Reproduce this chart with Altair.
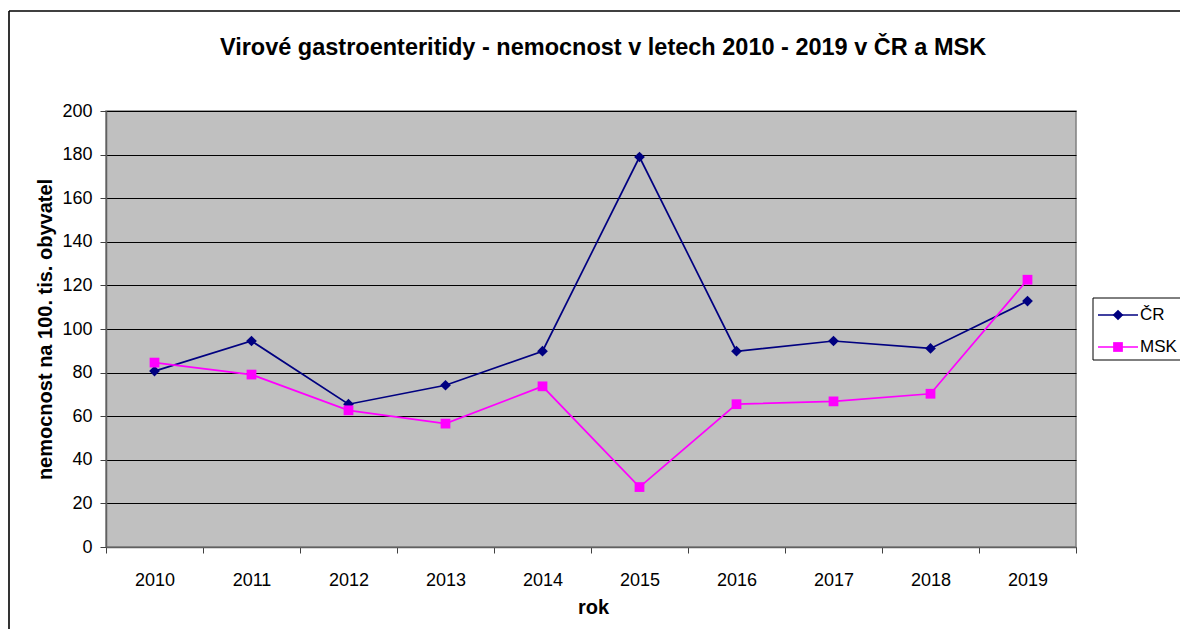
import altair as alt
import pandas as pd

# ---- data ----
years = ["2010", "2011", "2012", "2013", "2014", "2015", "2016", "2017", "2018", "2019"]
cr_values = [80.7, 94.5, 65.5, 74.2, 89.8, 178.9, 89.8, 94.5, 91.1, 112.8]
msk_values = [84.6, 79.1, 62.7, 56.6, 73.7, 27.5, 65.5, 66.8, 70.3, 122.6]
series_names = ["ČR", "MSK"]
series_colors = ["#000080", "#FF00FF"]
series_shapes = ["diamond", "square"]
series_sizes = [115, 95]
y_ticks = [0, 20, 40, 60, 80, 100, 120, 140, 160, 180, 200]

chart_title = "Virové gastroenteritidy - nemocnost v letech 2010 - 2019 v ČR a MSK"
x_title = "rok"
y_title = "nemocnost na 100. tis. obyvatel"

rows = []
for name, vals in zip(series_names, [cr_values, msk_values]):
    for yr, v in zip(years, vals):
        rows.append({"rok": yr, "serie": name, "hodnota": v})
df = pd.DataFrame(rows)

FONT = "Liberation Sans"
W, H = 970, 436

x_enc = alt.X(
    "rok:O",
    sort=years,
    scale=alt.Scale(paddingInner=0, paddingOuter=0),
    axis=alt.Axis(
        title=x_title, labelAngle=0, tickBand="extent", grid=False,
        labelFont=FONT, labelFontSize=18, labelColor="#000", labelPadding=18,
        tickSize=6, tickColor="#404040", domainColor="#606060", domainWidth=1.5,
        titleFont=FONT, titleFontSize=20, titleFontWeight="bold", titleColor="#000",
        titleX=487, titleY=60, titleAlign="center", titleBaseline="middle",
    ),
)
y_enc = alt.Y(
    "hodnota:Q",
    scale=alt.Scale(domain=[0, 200], nice=False, zero=True),
    axis=alt.Axis(
        values=y_ticks, title=y_title, grid=True, gridColor="#000", gridWidth=1,
        labelFont=FONT, labelFontSize=18, labelColor="#000", labelPadding=8,
        tickSize=6, tickColor="#404040", domainColor="#606060", domainWidth=1.5,
        titleFont=FONT, titleFontSize=20, titleFontWeight="bold", titleColor="#000",
        titleX=-61, titleY=218, titleAngle=-90, titleAlign="center", titleBaseline="middle",
    ),
)
color_enc = alt.Color("serie:N", scale=alt.Scale(domain=series_names, range=series_colors), legend=None)
shape_enc = alt.Shape("serie:N", scale=alt.Scale(domain=series_names, range=series_shapes), legend=None)
size_enc = alt.Size("serie:N", scale=alt.Scale(domain=series_names, range=series_sizes), legend=None)

base = alt.Chart(df)
lines = base.mark_line(strokeWidth=1.7).encode(x=x_enc, y=y_enc, color=color_enc)
points = base.mark_point(filled=True, opacity=1).encode(
    x=x_enc, y=y_enc, color=color_enc, shape=shape_enc, size=size_enc
)

one = pd.DataFrame({"k": [0]})

# outer chart frame (top and left edges are the visible ones)
frame_top = alt.Chart(one).mark_rule(color="#000", strokeWidth=1.6).encode(
    x=alt.value(-97), x2=alt.value(1200), y=alt.value(-100)
)
frame_left = alt.Chart(one).mark_rule(color="#000", strokeWidth=1.6).encode(
    x=alt.value(-97), y=alt.value(-100), y2=alt.value(700)
)

# title as text
title = alt.Chart(pd.DataFrame({"t": [chart_title]})).mark_text(
    font=FONT, fontSize=23.5, fontWeight="bold", color="#000", align="center", baseline="alphabetic"
).encode(text="t:N", x=alt.value(497), y=alt.value(-56))

# manual legend
legend_box = alt.Chart(one).mark_rect(fill="white", stroke="#000", strokeWidth=1).encode(
    x=alt.value(987), x2=alt.value(1100), y=alt.value(187), y2=alt.value(249)
)
legend_layers = [legend_box]
for i, (name, col, shp, sz) in enumerate(zip(series_names, series_colors, series_shapes, series_sizes)):
    yy = 204 + 32 * i
    ldf = pd.DataFrame({"serie": [name]})
    legend_layers.append(
        alt.Chart(ldf).mark_rule(color=col, strokeWidth=1.7).encode(
            x=alt.value(992), x2=alt.value(1032), y=alt.value(yy)
        )
    )
    legend_layers.append(
        alt.Chart(ldf).mark_point(filled=True, opacity=1, size=sz, shape=shp, color=col).encode(
            x=alt.value(1012), y=alt.value(yy)
        )
    )
    legend_layers.append(
        alt.Chart(ldf).mark_text(font=FONT, fontSize=17, color="#000", align="left", baseline="middle").encode(
            text="serie:N", x=alt.value(1034), y=alt.value(yy)
        )
    )

chart = alt.layer(frame_top, frame_left, lines, points, title, *legend_layers).properties(
    width=W, height=H,
    autosize=alt.AutoSizeParams(type="none"),
    padding={"left": 98, "right": 104, "top": 103, "bottom": 82},
    background="white",
).configure_view(
    fill="#C0C0C0", stroke="#808080", strokeWidth=1.5
)

chart.save("out.html", embed_options={"renderer": "svg", "actions": False})
